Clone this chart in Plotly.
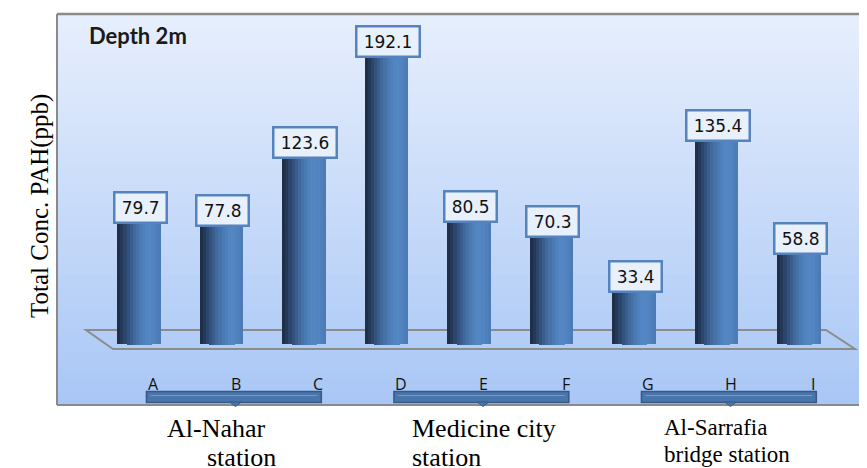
import plotly.graph_objects as go
import numpy as np

# ---- data ----
categories = ["A", "B", "C", "D", "E", "F", "G", "H", "I"]
values = [79.7, 77.8, 123.6, 192.1, 80.5, 70.3, 33.4, 135.4, 58.8]
value_labels = ["79.7", "77.8", "123.6", "192.1", "80.5", "70.3", "33.4", "135.4", "58.8"]
stations = ["Al-Nahar station", "Medicine city station", "Al-Sarrafia bridge station"]
station_members = [["A", "B", "C"], ["D", "E", "F"], ["G", "H", "I"]]
y_title = "Total Conc. PAH(ppb)"
panel_title = "Depth 2m"

# page body has an 8px margin: build the figure in page coordinates shifted by it
OFF = 8
W, H = 867 - OFF, 468 - OFF
ML, MR, MT, MB = 57 - OFF, 0, 14 - OFF, 468 - 405
PW, PH = W - ML - MR, H - MT - MB

def px2paperx(px):
    return (px - OFF - ML) / PW

def py2papery(py):
    return (H - MB - (py - OFF)) / PH

fig = go.Figure()

# ---- cylinder shading: overlaid strips ----
bar_w = 0.53
strip_colors = ["#1e2f47", "#24395a", "#2b456b", "#32527d", "#395e8e", "#40699c",
                "#4672a8", "#4a7ab3", "#4e80bb", "#5285c2", "#5387c4", "#5284c1",
                "#4f80bc", "#4c7bb5"]
n = len(strip_colors)
sw = bar_w / n
for k, c in enumerate(strip_colors):
    off = -bar_w / 2 + k * sw
    t = (off + sw / 2) / (bar_w / 2)
    d = 1.8 * np.sqrt(max(0.0, 1 - t * t)) + 0.3
    wk = sw * (1.25 if k < n - 1 else 1.0)
    fig.add_trace(go.Bar(x=categories, y=values, width=wk, offset=off,
                         marker=dict(color=c, line=dict(width=0)),
                         hoverinfo="skip", showlegend=False))
    fig.add_trace(go.Bar(x=categories, y=[d] * len(categories), base=[-d] * len(categories),
                         width=wk, offset=off,
                         marker=dict(color=c, line=dict(width=0)),
                         hoverinfo="skip", showlegend=False))

# ---- background gradient ----
shapes = []
top_c = np.array([0xe7, 0xef, 0xfd])
bot_c = np.array([0xa9, 0xc7, 0xf6])
N = 60
for i in range(N):
    f = i / (N - 1)
    col = top_c + (bot_c - top_c) * f
    shapes.append(dict(type="rect", xref="paper", yref="paper", layer="below",
                       x0=0, x1=1, y0=max(0, 1 - (i + 1.6) / N), y1=1 - i / N,
                       fillcolor="rgb(%d,%d,%d)" % tuple(col.astype(int)),
                       line=dict(width=0)))

# ---- border lines ----
border = "#8a8a8a"
shapes.append(dict(type="line", xref="paper", yref="paper", x0=0, x1=1, y0=1, y1=1,
                   line=dict(color=border, width=2.5)))
shapes.append(dict(type="line", xref="paper", yref="paper", x0=0, x1=0, y0=0, y1=1,
                   line=dict(color=border, width=2)))
shapes.append(dict(type="line", xref="paper", yref="paper", x0=0, x1=1, y0=0, y1=0,
                   line=dict(color=border, width=2)))

# ---- floor parallelogram ----
fx = [86, 826, 855, 113]
fy = [330, 330, 349, 349]
path = "M " + " L ".join("%f,%f" % (px2paperx(a), py2papery(b)) for a, b in zip(fx, fy)) + " Z"
shapes.append(dict(type="path", xref="paper", yref="paper", path=path, layer="below",
                   line=dict(color="#8c8c8c", width=2)))

# ---- station brackets ----
annotations = []
for members in station_members:
    i0 = categories.index(members[0])
    i1 = categories.index(members[-1])
    xa, xb = i0 + 0.09, i1 + 0.21
    shapes.append(dict(type="rect", xref="x", yref="paper", x0=xa, x1=xb,
                       y0=py2papery(402.5), y1=py2papery(391.5),
                       fillcolor="#4a75aa", line=dict(color="#34598a", width=1.5)))
    shapes.append(dict(type="line", xref="x", yref="paper", x0=xa + 0.05, x1=xb - 0.05,
                       y0=py2papery(395.5), y1=py2papery(395.5),
                       line=dict(color="#6f9ad0", width=1)))
    cm = categories.index(members[1]) + 0.17
    shapes.append(dict(type="path", xref="x", yref="paper",
                       path="M %f,%f L %f,%f L %f,%f Z" % (cm - 0.07, py2papery(402), cm + 0.07,
                                                           py2papery(402), cm, py2papery(406.5)),
                       fillcolor="#4a75aa", line=dict(color="#34598a", width=1)))

# ---- value label boxes ----
for c, v, t in zip(categories, values, value_labels):
    annotations.append(dict(x=c, y=v, xref="x", yref="y", text=t, showarrow=False,
                            yanchor="bottom", xshift=1,
                            font=dict(family="DejaVu Sans", size=17, color="#111111"),
                            bgcolor="#e8f0fc", bordercolor="#5583be", borderwidth=2.5,
                            borderpad=4, width=len(t) * 10.6))

# ---- category labels ----
for c in categories:
    annotations.append(dict(x=c, y=py2papery(384), xref="x", yref="paper", text=c,
                            showarrow=False, xshift=14, yanchor="middle",
                            font=dict(family="Open Sans", size=16, color="#111111")))

# ---- station labels ----
serif = "Liberation Serif"
st_lines = [
    [("Al-Nahar", 216, 428, "center", 26), ("station", 241, 457, "center", 26)],
    [("Medicine city", 410, 428, "left", 26), ("station", 410, 457, "left", 26)],
    [("Al-Sarrafia", 662, 427, "left", 23), ("bridge station", 662, 454, "left", 23)],
]
for name, lines in zip(stations, st_lines):
    for txt, lx, ly, anc, fs in lines:
        annotations.append(dict(x=px2paperx(lx), y=py2papery(ly), xref="paper", yref="paper",
                                text=txt, showarrow=False, xanchor=anc, yanchor="middle",
                                font=dict(family=serif, size=fs, color="#000000")))

# ---- y title ----
annotations.append(dict(x=px2paperx(24), y=py2papery(206), xref="paper", yref="paper",
                        text=y_title, textangle=-90, showarrow=False,
                        font=dict(family=serif, size=25, color="#000000")))

# ---- panel title ----
annotations.append(dict(x=px2paperx(87), y=py2papery(35), xref="paper", yref="paper",
                        text="<b>" + panel_title + "</b>", showarrow=False,
                        xanchor="left", yanchor="middle",
                        font=dict(family="Lato", size=22, color="#1a1a1a")))

# axis scaling: zero at ~342px (reference), 192.1 top at ~58px; bar A centre at 139px
y0_px = 342
scale = (y0_px - 58) / 192.1
ymin = -(405 - y0_px) / scale
ymax = ymin + PH / scale
spacing = 82.5
xmin = -(139 - 57) / spacing
xmax = xmin + PW / spacing

fig.update_layout(
    width=W, height=H,
    margin=dict(l=ML, r=MR, t=MT, b=MB, pad=0),
    paper_bgcolor="white", plot_bgcolor="rgba(0,0,0,0)",
    barmode="overlay", bargap=0,
    shapes=shapes, annotations=annotations,
    xaxis=dict(type="category", categoryorder="array", categoryarray=categories,
               range=[xmin, xmax], showticklabels=False, showgrid=False,
               zeroline=False, showline=False, ticks="", fixedrange=True),
    yaxis=dict(range=[ymin, ymax], showticklabels=False, showgrid=False,
               zeroline=False, showline=False, ticks="", fixedrange=True),
    showlegend=False,
)

fig.write_html("out.html")
